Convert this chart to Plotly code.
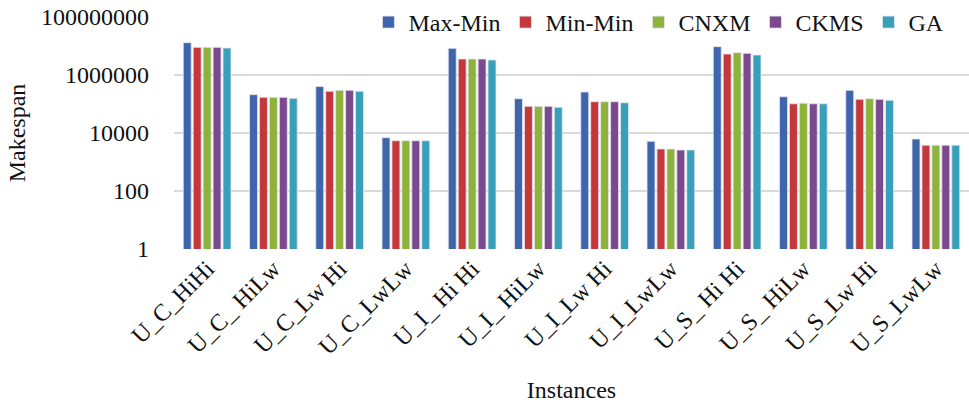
import plotly.graph_objects as go

# Problem instances (x categories)
instances = [
    "U_C_HiHi", "U_C_ HiLw", "U_C_Lw Hi", "U_C_LwLw",
    "U_I_ Hi Hi", "U_I_ HiLw", "U_I_Lw Hi", "U_I_LwLw",
    "U_S_ Hi Hi", "U_S_ HiLw", "U_S_Lw Hi", "U_S_LwLw",
]

# Makespan per heuristic for each instance
max_min = [13000000, 210000, 400000, 6900, 8300000, 152000, 260000, 5200, 9500000, 178000, 296000, 6200]
min_min = [9000000, 170000, 275000, 5400, 3560000, 83000, 120000, 2800, 5300000, 102000, 145000, 3800]
cnxm = [9000000, 170000, 297000, 5400, 3560000, 83000, 120000, 2800, 5900000, 107000, 152000, 3800]
ckms = [9000000, 170000, 297000, 5400, 3560000, 83000, 120000, 2600, 5600000, 102000, 145000, 3800]
ga = [8500000, 157000, 275000, 5400, 3300000, 77000, 110000, 2600, 4900000, 102000, 134000, 3800]

series = [
    ("Max-Min", max_min, "#3F65AC"),
    ("Min-Min", min_min, "#C4373B"),
    ("CNXM", cnxm, "#8DB33A"),
    ("CKMS", ckms, "#7B4A8E"),
    ("GA", ga, "#38A0BA"),
]

y_tickvals = [1, 100, 10000, 1000000, 100000000]
y_ticktext = ["1", "100", "10000", "1000000", "100000000"]

FONT = "Liberation Serif, Times New Roman, serif"
FS = 24

fig = go.Figure()
for name, vals, color in series:
    fig.add_trace(go.Bar(
        name=name, x=instances, y=vals,
        marker=dict(color=color, line=dict(color="#E4E4EE", width=0.8)),
    ))

fig.update_layout(
    width=969, height=406,
    margin=dict(l=174, r=0, t=16, b=157),
    paper_bgcolor="white", plot_bgcolor="white",
    barmode="group", bargap=0.25, bargroupgap=0.2,
    font=dict(family=FONT, size=FS, color="#111111"),
    showlegend=True,
    legend=dict(
        orientation="h", x=0.61, xanchor="center", y=0.978, yanchor="middle",
        bgcolor="white", font=dict(family=FONT, size=FS, color="#111111"),
        itemwidth=30, traceorder="normal",
    ),
)

fig.update_xaxes(
    type="category", tickangle=-45, showgrid=False, showline=False,
    ticks="", tickfont=dict(family=FONT, size=FS, color="#111111"),
    title=dict(text="Instances", standoff=22, font=dict(family=FONT, size=FS)),
    automargin=False,
)
fig.update_yaxes(
    type="log", range=[0, 8], tickvals=y_tickvals, ticktext=y_ticktext,
    showgrid=True, gridcolor="#D9D9D9", gridwidth=1.5,
    zeroline=False, showline=False, ticks="", ticklabelstandoff=24,
    tickfont=dict(family=FONT, size=FS, color="#111111"),
    title=dict(text="Makespan", standoff=8, font=dict(family=FONT, size=FS)),
    automargin=False,
)

fig.write_html("out.html")
